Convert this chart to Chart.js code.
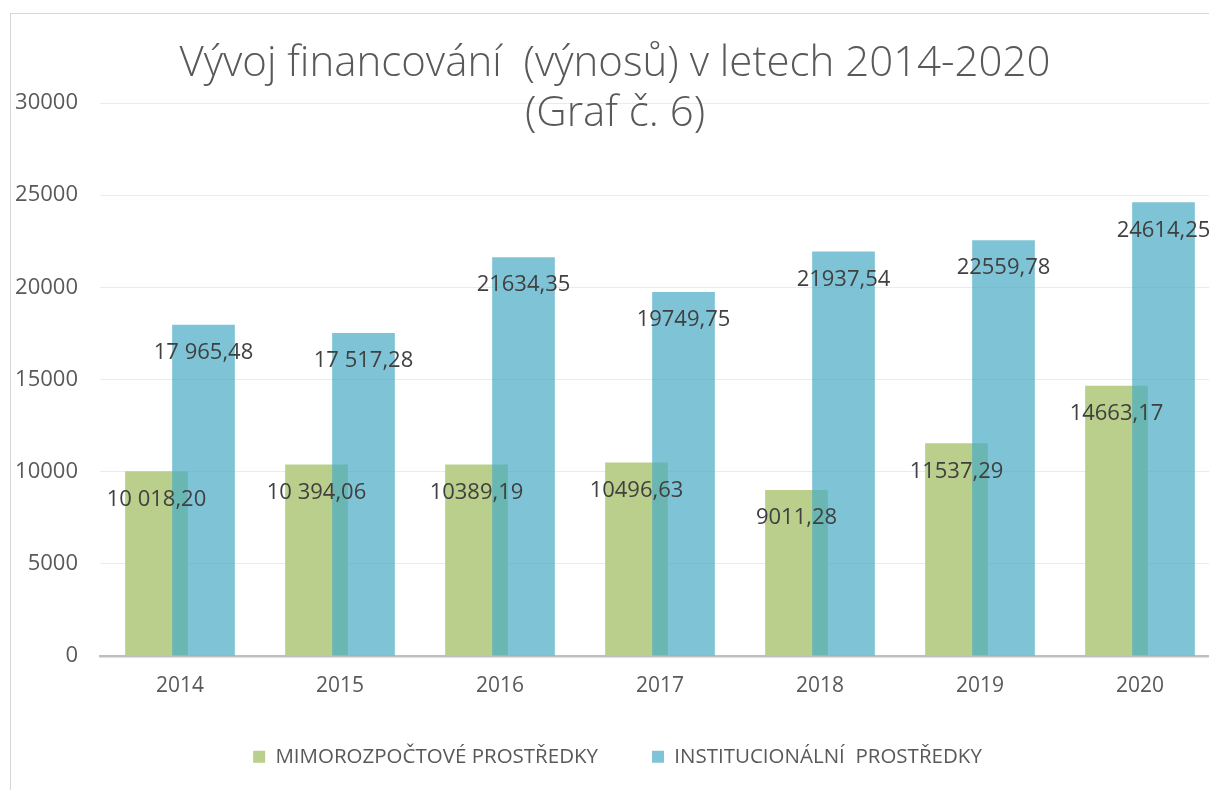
<!DOCTYPE html>
<html>
<head>
<meta charset="utf-8">
<script src="https://cdn.jsdelivr.net/npm/chart.js@4"></script>
<style>
  html, body { margin: 0; padding: 0; background: #fff; }
  body { width: 1209px; height: 790px; overflow: hidden; position: relative; }
  #frame { position: absolute; left: 10px; top: 13px; width: 1400px; height: 900px;
           border-left: 1.5px solid #d6d6d6; border-top: 1.5px solid #d6d6d6; }
  #wrap { position: absolute; left: 0; top: 0; width: 1240px; height: 790px; }
  #title { position: absolute; left: 0; width: 1230px; top: 35px; text-align: center;
           font-family: "Open Sans", sans-serif; font-weight: 300; font-size: 42px;
           line-height: 50px; color: #595959; white-space: pre; }
</style>
</head>
<body>
<div id="frame"></div>
<div id="wrap"><canvas id="chart" width="1240" height="790"></canvas></div>
<div id="title">Vývoj financování  (výnosů) v letech 2014-2020
(Graf č. 6)</div>
<script>
// chart data
const years = ["2014", "2015", "2016", "2017", "2018", "2019", "2020"];
const mimorozpoctove = [10018.20, 10394.06, 10389.19, 10496.63, 9011.28, 11537.29, 14663.17];
const institucionalni = [17965.48, 17517.28, 21634.35, 19749.75, 21937.54, 22559.78, 24614.25];
// which labels Excel printed with a thousands space
const mimoSpaced = [true, true, false, false, false, false, false];
const instSpaced = [true, true, false, false, false, false, false];
const yTicks = [0, 5000, 10000, 15000, 20000, 25000, 30000];

function formatValue(v, spaced) {
  let s = v.toFixed(2).replace(".", ",");
  if (spaced) {
    const parts = s.split(",");
    parts[0] = parts[0].replace(/\B(?=(\d{3})+(?!\d))/g, " ");
    s = parts.join(",");
  }
  return s;
}

// Chart.js paints dataset 0 last; hold the blue one back and paint it on top
const blueOnTop = {
  id: "blueOnTop",
  beforeDatasetDraw(chart, args) {
    if (args.index === 1) return false;
  },
  afterDatasetsDraw(chart) {
    chart.getDatasetMeta(1).controller.draw();
  },
};

// draw value labels just inside the top of each bar
const valueLabels = {
  id: "valueLabels",
  afterDatasetsDraw(chart) {
    const ctx = chart.ctx;
    ctx.save();
    ctx.font = "22px 'Open Sans', sans-serif";
    ctx.fillStyle = "#404040";
    ctx.textAlign = "center";
    ctx.textBaseline = "middle";
    chart.data.datasets.forEach((ds, i) => {
      const meta = chart.getDatasetMeta(i);
      meta.data.forEach((bar, j) => {
        ctx.fillText(formatValue(ds.data[j], ds.spaced[j]), bar.x, bar.y + 28);
      });
    });
    ctx.restore();
  },
};

const ctx = document.getElementById("chart").getContext("2d");
new Chart(ctx, {
  type: "bar",
  data: {
    labels: years,
    datasets: [
      {
        label: "MIMOROZPOČTOVÉ PROSTŘEDKY",
        data: mimorozpoctove,
        spaced: mimoSpaced,
        backgroundColor: "rgb(185, 207, 139)",
        borderWidth: 0,
      },
      {
        label: "INSTITUCIONÁLNÍ  PROSTŘEDKY",
        data: institucionalni,
        spaced: instSpaced,
        backgroundColor: "rgba(72, 171, 196, 0.7)",
        borderWidth: 0,
      },
    ],
  },
  options: {
    responsive: false,
    animation: false,
    devicePixelRatio: 1,
    categoryPercentage: 0.5875,
    barPercentage: 1.334,
    layout: { padding: { left: 15, top: 103, right: 20, bottom: 13 } },
    plugins: {
      title: { display: false },
      tooltip: { enabled: false },
      legend: {
        position: "bottom",
        labels: {
          boxWidth: 12,
          boxHeight: 12,
          padding: 54,
          color: "#595959",
          font: { family: "'Open Sans', sans-serif", size: 20.5 },
        },
      },
    },
    scales: {
      x: {
        grid: { display: false, drawTicks: false },
        border: { display: true, color: "#bfbfbf", width: 2.5 },
        ticks: {
          color: "#595959",
          padding: 17,
          font: { family: "'Open Sans', sans-serif", size: 21 },
        },
        afterFit: (scale) => { scale.height = 36.5; },
      },
      y: {
        min: 0,
        max: 30000,
        afterBuildTicks: (scale) => { scale.ticks = yTicks.map((v) => ({ value: v })); },
        grid: { color: "#ebebeb", lineWidth: 1, drawTicks: false },
        border: { display: false },
        ticks: {
          color: "#595959",
          padding: 22,
          font: { family: "'Open Sans', sans-serif", size: 22 },
          callback: (v) => String(v),
        },
        afterFit: (scale) => { scale.width = 85; },
      },
    },
  },
  plugins: [blueOnTop, valueLabels],
});
</script>
</body>
</html>
